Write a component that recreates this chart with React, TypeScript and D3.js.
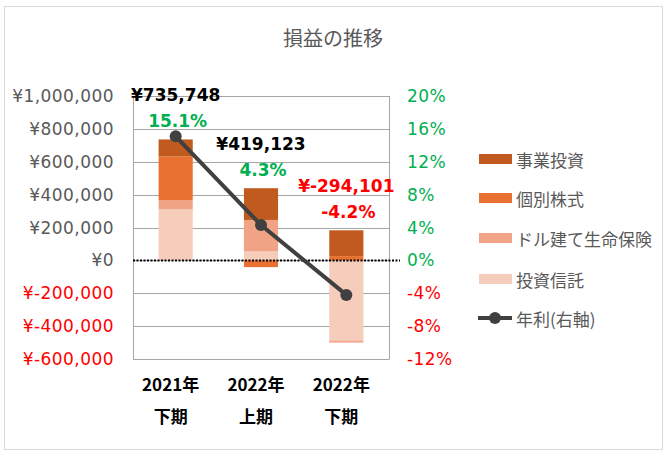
import React, { useEffect, useRef } from "react";
import * as d3 from "d3";

const categories = ["2021年|下期", "2022年|上期", "2022年|下期"];
const seriesNames = ["投資信託", "ドル建て生命保険", "個別株式", "事業投資"];
const trust = [312000, 55000, -488000];
const lifeInsurance = [55000, 191000, -12000];
const stocks = [265000, -41000, 26000];
const business = [103748, 193000, 157000];
const totals = [735748, 419123, -294101];
const rates = [15.1, 4.3, -4.2];
const leftTicks = [1000000, 800000, 600000, 400000, 200000, 0, -200000, -400000, -600000];
const rightTicks = [20, 16, 12, 8, 4, 0, -4, -8, -12];
const colors = ["#F6CCBA", "#F1A385", "#E97132", "#C05A1E"];

const W = 670,
  H = 458;
const plot = { left: 133, right: 389, top: 96, bottom: 359 };
const jp = "'Noto Sans CJK JP', 'DejaVu Sans', sans-serif";
const latin = "'DejaVu Sans', 'Noto Sans CJK JP', sans-serif";

function drawChart(el: SVGSVGElement) {
  const svg = d3.select(el);
  svg.selectAll("*").remove();

  const x = d3
    .scaleBand()
    .domain(categories)
    .range([plot.left, plot.right])
    .paddingInner(0.6)
    .paddingOuter(0.3);
  const yL = d3.scaleLinear().domain([-600000, 1000000]).range([plot.bottom, plot.top]);
  const yR = d3.scaleLinear().domain([-12, 20]).range([plot.bottom, plot.top]);

  // outer frame
  svg
    .append("rect")
    .attr("x", 4.5)
    .attr("y", 6.5)
    .attr("width", 658)
    .attr("height", 443)
    .attr("fill", "#fff")
    .attr("stroke", "#d9d9d9");

  // title
  svg
    .append("text")
    .attr("x", 333)
    .attr("y", 37)
    .attr("text-anchor", "middle")
    .attr("dominant-baseline", "central")
    .style("font-family", jp)
    .style("font-size", "20px")
    .attr("fill", "#595959")
    .text("損益の推移");

  // gridlines
  svg
    .append("g")
    .selectAll("line")
    .data(leftTicks)
    .join("line")
    .attr("x1", plot.left)
    .attr("x2", plot.right)
    .attr("y1", (d) => Math.round(yL(d)) + 0.5)
    .attr("y2", (d) => Math.round(yL(d)) + 0.5)
    .attr("stroke", "#a6a6a6")
    .attr("stroke-width", 1);

  [plot.left, plot.right].forEach((px) => {
    svg
      .append("line")
      .attr("x1", px + 0.5)
      .attr("x2", px + 0.5)
      .attr("y1", plot.top)
      .attr("y2", plot.bottom + 0.5)
      .attr("stroke", "#a6a6a6");
  });

  // stacked bars
  const rows = categories.map((c, i) => ({
    cat: c,
    [seriesNames[0]]: trust[i],
    [seriesNames[1]]: lifeInsurance[i],
    [seriesNames[2]]: stocks[i],
    [seriesNames[3]]: business[i],
  }));
  const stack = d3
    .stack<any>()
    .keys(seriesNames)
    .offset(d3.stackOffsetDiverging);
  const layers = stack(rows);

  svg
    .append("g")
    .selectAll("g")
    .data(layers)
    .join("g")
    .attr("fill", (_d, i) => colors[i])
    .selectAll("rect")
    .data((d) => d)
    .join("rect")
    .attr("x", (d: any) => x(d.data.cat)!)
    .attr("width", x.bandwidth())
    .attr("y", (d) => yL(Math.max(d[0], d[1])))
    .attr("height", (d) => Math.abs(yL(d[0]) - yL(d[1])));

  // zero line dotted
  svg
    .append("line")
    .attr("x1", plot.left)
    .attr("x2", 400)
    .attr("y1", yL(0))
    .attr("y2", yL(0))
    .attr("stroke", "#000")
    .attr("stroke-width", 2)
    .attr("stroke-dasharray", "2,1.5");

  // rate line
  const line = d3
    .line<number>()
    .x((_d, i) => x(categories[i])! + x.bandwidth() / 2)
    .y((d) => yR(d));
  svg
    .append("path")
    .attr("d", line(rates))
    .attr("fill", "none")
    .attr("stroke", "#404040")
    .attr("stroke-width", 4);
  svg
    .append("g")
    .selectAll("circle")
    .data(rates)
    .join("circle")
    .attr("cx", (_d, i) => x(categories[i])! + x.bandwidth() / 2)
    .attr("cy", (d) => yR(d))
    .attr("r", 6)
    .attr("fill", "#404040");

  // left axis labels
  svg
    .append("g")
    .selectAll("text")
    .data(leftTicks)
    .join("text")
    .attr("x", 114)
    .attr("y", (d) => yL(d))
    .attr("text-anchor", "end")
    .attr("dominant-baseline", "central")
    .style("font-family", latin)
    .style("font-size", "17px")
    .style("letter-spacing", "0.45px")
    .attr("fill", (d) => (d < 0 ? "#ff0000" : "#595959"))
    .text((d) => "¥" + d3.format(",")(d).replace("−", "-"));

  // right axis labels
  svg
    .append("g")
    .selectAll("text")
    .data(rightTicks)
    .join("text")
    .attr("x", 407)
    .attr("y", (d) => yR(d))
    .attr("dominant-baseline", "central")
    .style("font-family", latin)
    .style("font-size", "17px")
    .style("letter-spacing", "0.4px")
    .attr("fill", (d) => (d < 0 ? "#ff0000" : "#00b050"))
    .text((d) => d + "%");

  // category labels
  const cat = svg
    .append("g")
    .selectAll("text")
    .data(categories)
    .join("text")
    .attr("text-anchor", "middle")
    .style("font-family", jp)
    .style("font-size", "17px")
    .style("font-weight", "bold")
    .attr("fill", "#000");
  cat.each(function (d) {
    const cx = x(d)! + x.bandwidth() / 2 - 5;
    const parts = d.split("|");
    const t = d3.select(this);
    parts.forEach((p, j) => {
      t.append("tspan")
        .attr("x", cx)
        .attr("y", 383 + j * 32)
        .attr("dominant-baseline", "central")
        .text(p);
    });
  });

  // data labels (total and rate)
  const topOf = (i: number) => {
    let top = 0;
    layers.forEach((l) => {
      top = Math.max(top, l[i][1]);
    });
    return yL(top);
  };
  totals.forEach((v, i) => {
    const cx = x(categories[i])! + x.bandwidth() / 2;
    const ty = topOf(i);
    svg
      .append("text")
      .attr("x", cx)
      .attr("y", ty - 44)
      .attr("text-anchor", "middle")
      .attr("dominant-baseline", "central")
      .style("font-family", latin)
      .style("font-size", "17px")
      .style("font-weight", "bold")
      .attr("fill", v < 0 ? "#ff0000" : "#000")
      .text("¥" + d3.format(",")(v).replace("−", "-"));
    svg
      .append("text")
      .attr("x", cx + 2)
      .attr("y", ty - 18)
      .attr("text-anchor", "middle")
      .attr("dominant-baseline", "central")
      .style("font-family", latin)
      .style("font-size", "17px")
      .style("font-weight", "bold")
      .attr("fill", rates[i] < 0 ? "#ff0000" : "#00b050")
      .text(rates[i].toFixed(1) + "%");
  });

  // legend
  const legendY = [159, 198, 238, 279];
  const legendOrder = [3, 2, 1, 0];
  legendOrder.forEach((si, k) => {
    svg
      .append("rect")
      .attr("x", 479)
      .attr("y", legendY[k] - 5)
      .attr("width", 33)
      .attr("height", 10)
      .attr("fill", colors[si]);
    svg
      .append("text")
      .attr("x", 516)
      .attr("y", legendY[k])
      .attr("dominant-baseline", "central")
      .style("font-family", jp)
      .style("font-size", "17px")
      .attr("fill", "#595959")
      .text(seriesNames[si]);
  });
  svg
    .append("line")
    .attr("x1", 478)
    .attr("x2", 512)
    .attr("y1", 318)
    .attr("y2", 318)
    .attr("stroke", "#404040")
    .attr("stroke-width", 4);
  svg
    .append("circle")
    .attr("cx", 495)
    .attr("cy", 318)
    .attr("r", 6)
    .attr("fill", "#404040");
  svg
    .append("text")
    .attr("x", 516)
    .attr("y", 318)
    .attr("dominant-baseline", "central")
    .style("font-family", jp)
    .style("font-size", "17px")
    .attr("fill", "#595959")
    .text("年利(右軸)");
}

export default function App() {
  const ref = useRef<SVGSVGElement>(null);
  useEffect(() => {
    if (ref.current) drawChart(ref.current);
  }, []);
  return (
    <svg
      ref={ref}
      width={W}
      height={H}
      style={{ position: "absolute", left: 0, top: 0, background: "#fff" }}
    />
  );
}
